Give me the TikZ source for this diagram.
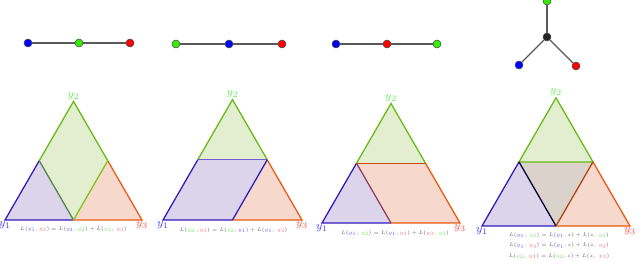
\documentclass[tikz,border=0pt]{standalone}
\usepackage{amsmath}
\usepackage{graphicx}
\usetikzlibrary{calc}
\definecolor{nodeblue}{HTML}{0000FF}
\definecolor{nodegreen}{HTML}{33EE00}
\definecolor{nodered}{HTML}{FF0000}
\definecolor{edgeblue}{HTML}{3318BB}
\definecolor{edgegreen}{HTML}{66BB11}
\definecolor{edgeorange}{HTML}{E85A10}
\definecolor{fillpurple}{HTML}{DCD4EA}
\definecolor{fillgreen}{HTML}{E3EDD0}
\definecolor{fillorange}{HTML}{F6D9CC}
\definecolor{fillmid}{HTML}{DCD2CC}
\definecolor{labblue}{HTML}{4040FF}
\definecolor{labgreen}{HTML}{66EE55}
\definecolor{labred}{HTML}{FF5050}
\definecolor{formgray}{HTML}{5A5A5A}
\newcommand{\yblue}{\textcolor{labblue!85}{y_1}}
\newcommand{\ygreen}{\textcolor{labgreen}{y_2}}
\newcommand{\yred}{\textcolor{labred!85}{y_3}}
\newcommand{\smallform}[1]{\scalebox{0.72}{$#1$}}
\tikzset{
  vert/.style={circle,draw=black!70,inner sep=0pt,minimum size=0.2cm},
  link/.style={draw=black!65,line width=0.8pt},
  side/.style={line width=0.9pt},
  formula/.style={text=formgray,font=\tiny,inner sep=0pt},
  corner/.style={font=\footnotesize,inner sep=1pt}
}
\begin{document}
\begin{tikzpicture}[x=0.025cm,y=-0.025cm]
 \useasboundingbox (0,0) rectangle (640,261);
 % graphs on top
 \node[vert,fill=nodeblue] (g1a) at (28,43) {};
 \node[vert,fill=nodegreen] (g1b) at (79,43) {};
 \node[vert,fill=nodered] (g1c) at (130,43) {};
 \draw[link] (g1a) -- (g1b); \draw[link] (g1b) -- (g1c);
 \node[vert,fill=nodegreen] (g2a) at (176,44) {};
 \node[vert,fill=nodeblue] (g2b) at (229,44) {};
 \node[vert,fill=nodered] (g2c) at (282,44) {};
 \draw[link] (g2a) -- (g2b); \draw[link] (g2b) -- (g2c);
 \node[vert,fill=nodeblue] (g3a) at (336,44) {};
 \node[vert,fill=nodered] (g3b) at (387,44) {};
 \node[vert,fill=nodegreen] (g3c) at (437,44) {};
 \draw[link] (g3a) -- (g3b); \draw[link] (g3b) -- (g3c);
 \node[vert,fill=black!85] (g4z) at (547,37) {};
 \node[vert,fill=nodegreen] (g4b) at (547,1) {};
 \node[vert,fill=nodeblue] (g4a) at (519,65) {};
 \node[vert,fill=nodered] (g4c) at (576,66) {};
 \draw[link] (g4z) -- (g4a); \draw[link] (g4z) -- (g4b); \draw[link] (g4z) -- (g4c);

 % triangle 1
 \coordinate (a1) at (5,220); \coordinate (c1) at (142,220); \coordinate (b1) at (73.5,101.4);
 \coordinate (l1) at ($(a1)!0.5!(b1)$); \coordinate (r1) at ($(c1)!0.5!(b1)$); \coordinate (m1) at ($(a1)!0.5!(c1)$);
 \fill[fillpurple] (a1) -- (l1) -- (m1) -- cycle;
 \fill[fillgreen] (b1) -- (l1) -- (m1) -- (r1) -- cycle;
 \fill[fillorange] (m1) -- (r1) -- (c1) -- cycle;
 \draw[side,edgeblue] (l1) -- (a1) -- (m1);
 \draw[side,edgegreen] (l1) -- (b1) -- (r1);
 \draw[side,edgeorange] (r1) -- (c1) -- (m1);
 \draw[side,edgeblue!35!edgegreen] (l1) -- (m1);
 \draw[side,edgegreen!85!yellow] (m1) -- (r1);
 \node[corner,text=labgreen,above] at (b1) {$y_2$};
 \node[corner,text=labblue,below] at (a1) {$y_1$};
 \node[corner,text=labred,below] at (c1) {$y_3$};
 \node[formula] at ($(m1)+(0,9)$) {\smallform{L(\yblue,\yred)=L(\yblue,\ygreen)+L(\ygreen,\,\yred)}};

 % triangle 2
 \coordinate (a2) at (163,220); \coordinate (c2) at (302,220); \coordinate (b2) at (232.5,99.6);
 \coordinate (l2) at ($(a2)!0.5!(b2)$); \coordinate (r2) at ($(c2)!0.5!(b2)$); \coordinate (m2) at ($(a2)!0.5!(c2)$);
 \fill[fillgreen] (b2) -- (l2) -- (r2) -- cycle;
 \fill[fillpurple] (a2) -- (l2) -- (r2) -- (m2) -- cycle;
 \fill[fillorange] (m2) -- (r2) -- (c2) -- cycle;
 \draw[side,edgegreen] (l2) -- (b2) -- (r2);
 \draw[side,edgeblue] (l2) -- (a2) -- (m2);
 \draw[side,edgeorange] (r2) -- (c2) -- (m2);
 \draw[side,edgeblue!70] (l2) -- (r2);
 \draw[side,edgeblue] (m2) -- (r2);
 \node[corner,text=labgreen,above] at (b2) {$y_2$};
 \node[corner,text=labblue,below] at (a2) {$y_1$};
 \node[corner,text=labred,below] at (c2) {$y_3$};
 \node[formula] at ($(m2)+(1,10)$) {\smallform{L(\ygreen\,,\yred)=L(\ygreen,\yblue)+L(\yblue,\,\yred)}};

 % triangle 3
 \coordinate (a3) at (322,223); \coordinate (c3) at (460,223); \coordinate (b3) at (391,103.5);
 \coordinate (l3) at ($(a3)!0.5!(b3)$); \coordinate (r3) at ($(c3)!0.5!(b3)$); \coordinate (m3) at ($(a3)!0.5!(c3)$);
 \fill[fillgreen] (b3) -- (l3) -- (r3) -- cycle;
 \fill[fillpurple] (a3) -- (l3) -- (m3) -- cycle;
 \fill[fillorange] (l3) -- (r3) -- (c3) -- (m3) -- cycle;
 \draw[side,edgegreen] (l3) -- (b3) -- (r3);
 \draw[side,edgeblue] (l3) -- (a3) -- (m3);
 \draw[side,edgeorange] (r3) -- (c3) -- (m3);
 \draw[side,edgeorange!85!black] (l3) -- (r3);
 \draw[side,edgeorange!55!edgeblue] (l3) -- (m3);
 \node[corner,text=labgreen,above] at (b3) {$y_2$};
 \node[corner,text=labblue,below] at (a3) {$y_1$};
 \node[corner,text=labred,below] at (c3) {$y_3$};
 \node[formula] at ($(m3)+(4,10)$) {\smallform{L(\yblue,\,\ygreen)=L(\yblue,\yred)+L(\yred,\,\ygreen)}};

 % triangle 4
 \coordinate (a4) at (482,226); \coordinate (c4) at (630,226); \coordinate (b4) at (556,97.8);
 \coordinate (l4) at ($(a4)!0.5!(b4)$); \coordinate (r4) at ($(c4)!0.5!(b4)$); \coordinate (m4) at ($(a4)!0.5!(c4)$);
 \fill[fillgreen] (b4) -- (l4) -- (r4) -- cycle;
 \fill[fillpurple] (a4) -- (l4) -- (m4) -- cycle;
 \fill[fillorange] (r4) -- (c4) -- (m4) -- cycle;
 \fill[fillmid] (l4) -- (r4) -- (m4) -- cycle;
 \draw[side,edgegreen] (l4) -- (b4) -- (r4) -- cycle;
 \draw[side,edgeblue] (l4) -- (a4) -- (m4);
 \draw[side,edgeorange] (r4) -- (c4) -- (m4);
 \draw[side,black!80!blue] (l4) -- (m4);
 \draw[side,edgeorange!75!black] (m4) -- (r4);
 \node[corner,text=labgreen,above] at (b4) {$y_2$};
 \node[corner,text=labblue,below] at (a4) {$y_1$};
 \node[corner,text=labred,below] at (c4) {$y_3$};
 \node[formula] (f4a) at ($(m4)+(3,9)$) {\smallform{L(\yblue,\,\ygreen)=L(\yblue,z)+L(z,\,\ygreen)}};
 \node[formula] (f4b) at ($(m4)+(3,19.5)$) {\smallform{L(\yblue,\,\yred)=L(\yblue,z)+L(z,\,\yred)}};
 \node[formula] (f4c) at ($(m4)+(3,30)$) {\smallform{L(\ygreen,\,\yred)=L(\ygreen,z)+L(z,\;\yred)}};
\end{tikzpicture}
\end{document}
